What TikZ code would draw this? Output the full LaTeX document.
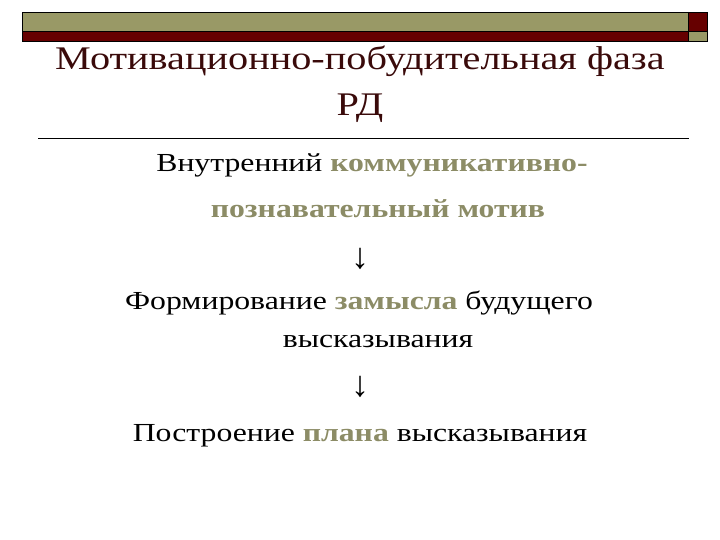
\documentclass[tikz,border=0pt]{standalone}
\usepackage{fontspec}
\setmainfont{Liberation Serif}[FakeStretch=1.22]
\newfontfamily\arrowfont{Liberation Serif}
\definecolor{olive}{HTML}{999966}
\definecolor{maroon}{HTML}{660000}
\definecolor{titlec}{HTML}{3A0A0A}
\definecolor{hl}{HTML}{8C8C66}
\tikzset{
  barbox/.style={draw=black, line width=0.8pt},
  titletext/.style={text=titlec, font=\fontsize{33}{38}\selectfont, anchor=base, inner sep=0pt},
  bodytext/.style={text=black, font=\fontsize{26}{30}\selectfont, anchor=base, inner sep=0pt},
  arrowtext/.style={text=black, font=\arrowfont\fontsize{36}{40}\selectfont, anchor=base, inner sep=0pt}
}
\newcommand{\hlw}[1]{\textcolor{hl}{\textbf{#1}}}
\begin{document}
\begin{tikzpicture}[x=1pt,y=-1pt]
\useasboundingbox (0,0) rectangle (720,540);
\fill[white] (0,0) rectangle (720,540);
% top bar
\fill[olive] (22,12) rectangle (688,31);
\fill[maroon] (22,31) rectangle (688,41);
\fill[maroon] (688,12) rectangle (707,31);
\fill[olive] (688,31) rectangle (707,41);
\draw[barbox] (22,12) rectangle (707,41);
\draw[barbox] (22,31) -- (707,31);
\draw[barbox] (688,12) -- (688,41);
% title
\node[titletext] (t1) at (360,70) {Мотивационно-побудительная фаза};
\node[titletext] (t2) at (360,116) {РД};
\draw[line width=0.8pt] (38,138) -- (689,138);
% body
\node[bodytext] (b1) at (372,172) {Внутренний \hlw{коммуникативно-}};
\node[bodytext] (b2) at (378,218) {\hlw{познавательный мотив}};
\node[arrowtext] (a1) at (360,268) {↓};
\node[bodytext] (c1) at (359,309) {Формирование \hlw{замысла} будущего};
\node[bodytext] (c2) at (378,347) {высказывания};
\node[arrowtext] (a2) at (360,396) {↓};
\node[bodytext] (d1) at (360,441) {Построение \hlw{плана} высказывания};
\end{tikzpicture}
\end{document}
